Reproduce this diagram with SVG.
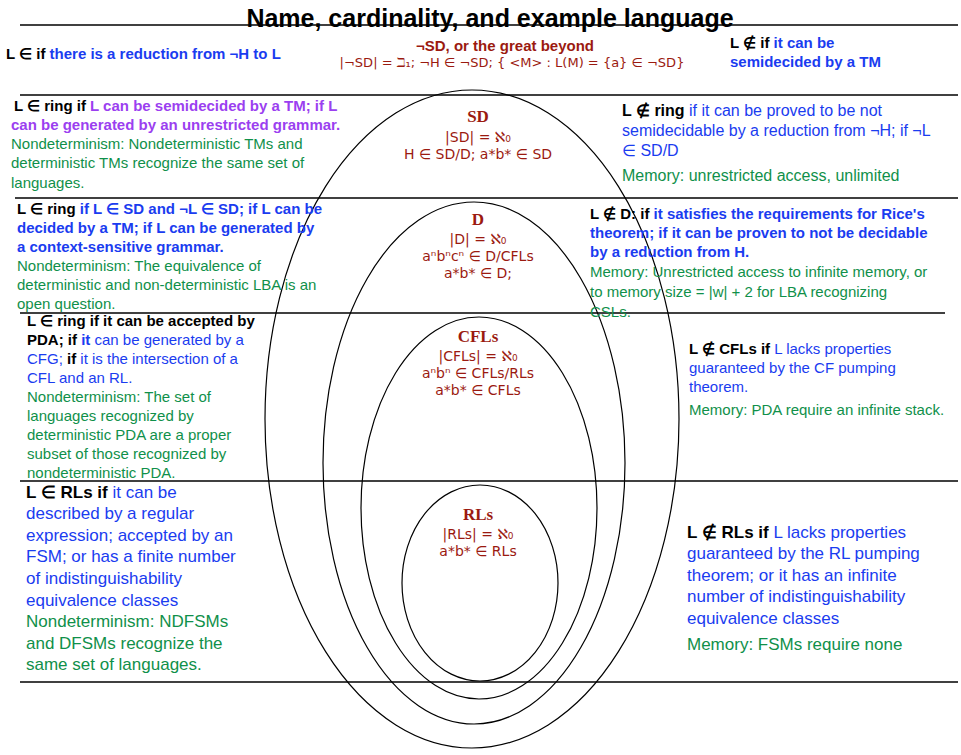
<svg xmlns="http://www.w3.org/2000/svg" width="961" height="755" viewBox="0 0 961 755">
<style>
text{font-family:"Liberation Sans",Arial,sans-serif;font-size:16px}
.k{fill:#000;font-weight:bold}
.b{fill:#1a3cf0}
.bb{fill:#1a3cf0;font-weight:bold}
.p{fill:#9b3ff0;font-weight:bold}
.g{fill:#10904a}
.r{fill:#9b1a10;text-anchor:middle;font-family:"DejaVu Sans",sans-serif;font-size:14px}
.rb{font-weight:bold;font-family:"Liberation Serif",serif;font-size:17px}
.ln{stroke:#000;stroke-width:1.3}
.el{fill:none;stroke:#000;stroke-width:1.2}
.n{font-size:17px}
</style>
<rect width="961" height="755" fill="#fff"/>
<g id="rules">
<line class="ln" x1="20" y1="25" x2="958" y2="25"/>
<line class="ln" x1="20" y1="95" x2="958" y2="95"/>
<line class="ln" x1="15" y1="198" x2="958" y2="198"/>
<line class="ln" x1="20" y1="313" x2="945" y2="313"/>
<line class="ln" x1="20" y1="481" x2="958" y2="481"/>
<line class="ln" x1="20" y1="682" x2="958" y2="682"/>
</g>
<g id="connectors"></g>
<g id="title"><text x="490" y="27" text-anchor="middle" style="font-size:25px;font-weight:bold">Name, cardinality, and example language</text></g>
<g id="nsd">
<text x="6" y="59" class="k" style="font-size:15px">L ∈ if <tspan class="bb">there is a reduction from ¬H to L</tspan></text>
<text x="505" y="51" class="r" style="font-weight:bold;font-family:'Liberation Sans',sans-serif;font-size:15px">¬SD, or the great beyond</text>
<text x="512" y="67" class="r" style="font-size:13px">|¬SD| = ℶ₁; ¬H ∈ ¬SD; { &lt;M&gt; : L(M) = {a} ∈ ¬SD}</text>
<text x="730" y="48" class="k" style="font-size:15px">L ∉ if <tspan class="bb">it can be</tspan></text>
<text x="730" y="67" class="bb" style="font-size:15px">semidecided by a TM</text>
</g>
<g id="ellipses">
<ellipse class="el" cx="472" cy="419" rx="207" ry="329"/>
<ellipse class="el" cx="474" cy="463" rx="151" ry="261"/>
<ellipse class="el" cx="479" cy="508" rx="118" ry="191"/>
<ellipse class="el" cx="480" cy="583" rx="78" ry="98"/>
</g>
<g id="SD">
<text x="478" y="122" class="r rb">SD</text>
<text x="478" y="142" class="r">|SD| = ℵ₀</text>
<text x="478" y="159" class="r">H ∈ SD/D; a*b* ∈ SD</text>
<text x="14" y="111" class="k" style="font-size:15px">L ∈ ring if <tspan class="p">L can be semidecided by a TM; if L</tspan></text>
<text x="11" y="130" class="p" style="font-size:15px">can be generated by an unrestricted grammar.</text>
<text x="11" y="149" class="g" style="font-size:15px">Nondeterminism: Nondeterministic TMs and</text>
<text x="11" y="168" class="g" style="font-size:15px">deterministic TMs recognize the same set of</text>
<text x="11" y="188" class="g" style="font-size:15px">languages.</text>
<text x="622" y="116" class="k">L ∉ ring <tspan class="b" style="font-weight:normal">if it can be proved to be not</tspan></text>
<text x="622" y="136" class="b">semidecidable by a reduction from ¬H; if ¬L</text>
<text x="622" y="156" class="b">∈ SD/D</text>
<text x="622" y="181" class="g">Memory: unrestricted access, unlimited</text>
</g>
<g id="D">
<text x="478" y="225" class="r rb">D</text>
<text x="478" y="244" class="r">|D| = ℵ₀</text>
<text x="478" y="261" class="r">aⁿbⁿcⁿ ∈ D/CFLs</text>
<text x="478" y="278" class="r">a*b* ∈ D;</text>
<text x="17" y="214" class="k" style="font-size:15px">L ∈ ring <tspan class="bb">if L ∈ SD and ¬L ∈ SD; if L can be</tspan></text>
<text x="17" y="233" class="bb" style="font-size:15px">decided by a TM; if L can be generated by</text>
<text x="17" y="252" class="bb" style="font-size:15px">a context-sensitive grammar.</text>
<text x="17" y="271" class="g" style="font-size:15px">Nondeterminism: The equivalence of</text>
<text x="17" y="290" class="g" style="font-size:15px">deterministic and non-deterministic LBA is an</text>
<text x="17" y="309" class="g" style="font-size:15px">open question.</text>
<text x="590" y="219" class="k" style="font-size:15px">L ∉ D: if <tspan class="bb">it satisfies the requirements for Rice's</tspan></text>
<text x="590" y="238" class="bb" style="font-size:15px">theorem; if it can be proven to not be decidable</text>
<text x="590" y="257" class="bb" style="font-size:15px">by a reduction from H.</text>
<text x="590" y="277" class="g" style="font-size:15px">Memory: Unrestricted access to infinite memory, or</text>
<text x="590" y="297" class="g" style="font-size:15px">to memory size  =  |w| + 2 for LBA recognizing</text>
<text x="590" y="317" class="g" style="font-size:15px">CSLs.</text>
</g>
<g id="CFLs">
<text x="478" y="342" class="r rb">CFLs</text>
<text x="478" y="361" class="r">|CFLs| = ℵ₀</text>
<text x="478" y="378" class="r">aⁿbⁿ ∈ CFLs/RLs</text>
<text x="478" y="395" class="r">a*b* ∈ CFLs</text>
<text x="27" y="326" class="k" style="font-size:15px">L ∈ ring if it can be accepted by</text>
<text x="27" y="345" class="k" style="font-size:15px">PDA; if <tspan class="bb">it</tspan><tspan class="b" style="font-weight:normal"> can be generated by a</tspan></text>
<text x="27" y="364" class="b" style="font-size:15px">CFG;  <tspan class="k">if</tspan> it is the intersection of a</text>
<text x="27" y="383" class="b" style="font-size:15px">CFL and  an RL.</text>
<text x="27" y="402" class="g" style="font-size:15px">Nondeterminism: The set of</text>
<text x="27" y="421" class="g" style="font-size:15px">languages recognized by</text>
<text x="27" y="440" class="g" style="font-size:15px">deterministic PDA are a proper</text>
<text x="27" y="459" class="g" style="font-size:15px">subset of those recognized by</text>
<text x="27" y="478" class="g" style="font-size:15px">nondeterministic PDA.</text>
<text x="689" y="354" class="k" style="font-size:15px">L ∉ CFLs if <tspan class="b" style="font-weight:normal">L lacks  properties</tspan></text>
<text x="689" y="373" class="b" style="font-size:15px">guaranteed by the CF pumping</text>
<text x="689" y="392" class="b" style="font-size:15px">theorem.</text>
<text x="689" y="415" class="g" style="font-size:15px">Memory: PDA require an infinite stack.</text>
</g>
<g id="RLs">
<text x="478" y="520" class="r rb">RLs</text>
<text x="478" y="539" class="r">|RLs| = ℵ₀</text>
<text x="478" y="556" class="r">a*b* ∈ RLs</text>
<text x="26" y="498" class="k n">L ∈ RLs if <tspan class="b" style="font-weight:normal">it can be</tspan></text>
<text x="26" y="519" class="b n">described by a regular</text>
<text x="26" y="541" class="b n">expression; accepted by an</text>
<text x="26" y="562" class="b n">FSM; or has a finite number</text>
<text x="26" y="584" class="b n">of   indistinguishability</text>
<text x="26" y="606" class="b n">equivalence classes</text>
<text x="26" y="627" class="g n">Nondeterminism: NDFSMs</text>
<text x="26" y="649" class="g n">and DFSMs recognize the</text>
<text x="26" y="670" class="g n">same set of languages.</text>
<text x="687" y="538" class="k n">L ∉ RLs if <tspan class="b" style="font-weight:normal">L lacks  properties</tspan></text>
<text x="687" y="559" class="b n">guaranteed by the RL pumping</text>
<text x="687" y="581" class="b n">theorem; or it has an infinite</text>
<text x="687" y="602" class="b n">number of indistinguishability</text>
<text x="687" y="624" class="b n">equivalence classes</text>
<text x="687" y="650" class="g n">Memory: FSMs require none</text>
</g>
</svg>
